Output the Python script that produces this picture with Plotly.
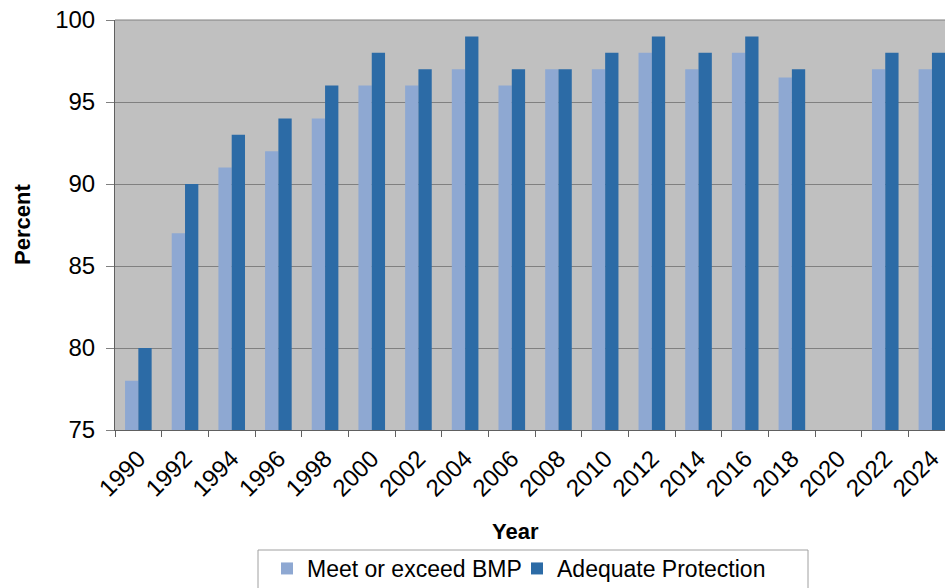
import plotly.graph_objects as go

years = ["1990", "1992", "1994", "1996", "1998", "2000", "2002", "2004", "2006",
         "2008", "2010", "2012", "2014", "2016", "2018", "2020", "2022", "2024"]
meet_bmp = [78, 87, 91, 92, 94, 96, 96, 97, 96, 97, 97, 98, 97, 98, 96.5, None, 97, 97]
adequate = [80, 90, 93, 94, 96, 98, 97, 99, 97, 97, 98, 99, 98, 99, 97, None, 98, 98]
y_ticks = [75, 80, 85, 90, 95, 100]

FONT = "Liberation Sans, Arial, sans-serif"
LIGHT = "#8EA8D2"
DARK = "#2C6BA6"

# plot area in pixels
L, T, B = 115, 20, 158
W, H = 945, 588
plot_w = W - L
plot_h = H - T - B


def px_x(x):
    return (x - L) / plot_w


def px_y(y):
    return (H - B - y) / plot_h


fig = go.Figure()
fig.add_trace(go.Bar(x=years, y=meet_bmp, name="Meet or exceed BMP",
                     marker=dict(color=LIGHT, line=dict(width=0))))
fig.add_trace(go.Bar(x=years, y=adequate, name="Adequate Protection",
                     marker=dict(color=DARK, line=dict(width=0))))

fig.update_layout(
    width=W, height=H,
    margin=dict(l=L, r=0, t=T, b=B, autoexpand=False),
    paper_bgcolor="white",
    plot_bgcolor="#C0C0C0",
    barmode="group",
    bargap=0.43,
    bargroupgap=0,
    font=dict(family=FONT, size=22, color="black"),
    showlegend=True,
    legend=dict(
        orientation="h",
        x=px_x(267), xanchor="left",
        y=px_y(547), yanchor="top",
        bgcolor="rgba(0,0,0,0)",
        borderwidth=0,
        font=dict(family=FONT, size=23, color="black"),
        itemwidth=30,
        entrywidth=205,
        traceorder="normal",
    ),
    xaxis=dict(
        type="category",
        range=[-0.5, 17.28],
        automargin=False,
        tickson="boundaries",
        ticks="outside",
        ticklen=6,
        tickcolor="#606060",
        tickangle=-45,
        ticklabelstandoff=4,
        showline=True,
        linecolor="#606060",
        linewidth=1,
        showgrid=False,
        tickfont=dict(family=FONT, size=24),
    ),
    yaxis=dict(
        range=[75, 100],
        automargin=False,
        tickvals=y_ticks,
        ticks="outside",
        ticklen=8,
        tickcolor="#808080",
        ticklabelstandoff=6,
        showline=True,
        linecolor="#606060",
        linewidth=1,
        showgrid=True,
        gridcolor="#808080",
        gridwidth=1,
        zeroline=False,
        tickfont=dict(family=FONT, size=24),
    ),
    annotations=[
        dict(text="<b>Year</b>", x=px_x(515), xref="paper", y=px_y(531), yref="paper",
             xanchor="center", yanchor="middle", showarrow=False,
             font=dict(family=FONT, size=22)),
        dict(text="<b>Percent</b>", x=px_x(22), xref="paper", y=px_y(225), yref="paper",
             xanchor="center", yanchor="middle", showarrow=False, textangle=-90,
             font=dict(family=FONT, size=22)),
    ],
    shapes=[
        # top border of the plot area
        dict(type="line", xref="paper", yref="paper", x0=0, x1=1, y0=1, y1=1,
             line=dict(color="#808080", width=1)),
        # legend frame
        dict(type="rect", xref="paper", yref="paper",
             x0=px_x(258), x1=px_x(808), y0=px_y(550), y1=px_y(600),
             line=dict(color="#A0A0A0", width=1), fillcolor="rgba(0,0,0,0)",
             layer="below"),
    ],
)

fig.write_html("out.html")
